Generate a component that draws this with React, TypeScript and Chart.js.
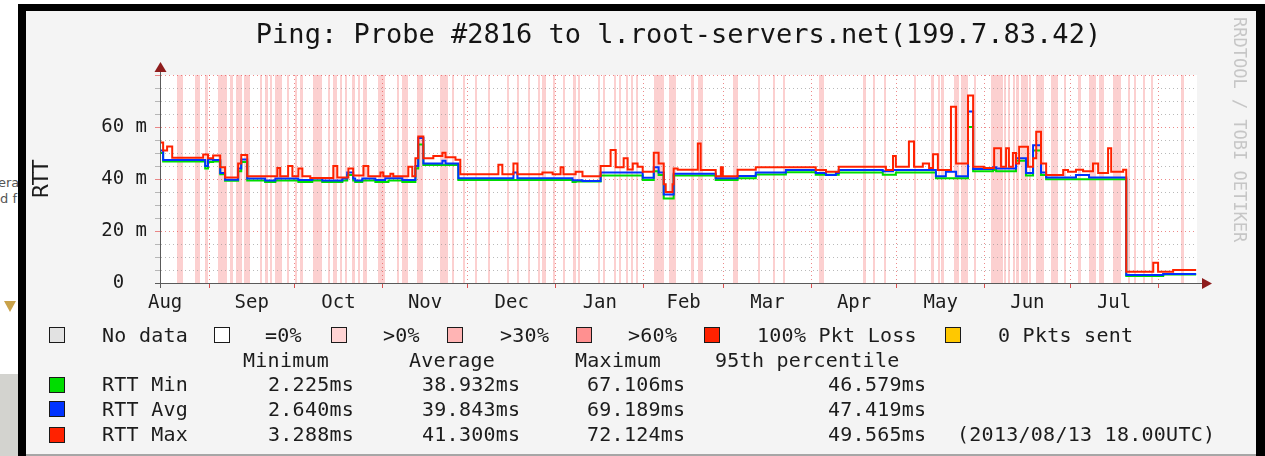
import React, { useEffect, useRef } from 'react';
import { Chart, registerables } from 'chart.js';

Chart.register(...registerables);

// ---------------- data ----------------
const chartTitle = 'Ping: Probe #2816 to l.root-servers.net(199.7.83.42)';
const yAxisTitle = 'RTT';
const watermark = 'RRDTOOL / TOBI OETIKER';

// x values are days counted from 2012-08-01
const xMinDay = 13.7;
const xMaxDay = 378.7;
const monthLabels = ['Aug', 'Sep', 'Oct', 'Nov', 'Dec', 'Jan', 'Feb', 'Mar', 'Apr', 'May', 'Jun', 'Jul'];
const monthMidDays = [15.5, 46, 76.5, 107, 137.5, 168.5, 198, 227.5, 258, 288.5, 319, 349.5];
const monthStartDays = [31, 61, 92, 122, 153, 184, 212, 243, 273, 304, 334, 365];

const yMin = 0;
const yMax = 80;
const yStep = 5;
const yMajorStep = 20;
const yTickValues = [0, 20, 40, 60];
const yTickTexts = ['0  ', '20 m', '40 m', '60 m'];

// step series: [day, ms]
const rttMaxSteps: [number, number][] = [
  [13.7, 54], [14.8, 51], [16.2, 52.5], [18.0, 48.2], [28.9, 49.4], [30.6, 48], [32.4, 49], [34.9, 44.5],
  [36.6, 40.6], [41.2, 46], [42.3, 49.2], [44.4, 41.1], [55.0, 44.2], [56.0, 41.1], [58.8, 45], [60.3, 41.1],
  [62.4, 44], [63.8, 41.1], [66.6, 40.4], [74.7, 45], [76.1, 40.6], [80.0, 44], [81.7, 41.3], [85.3, 45],
  [87.0, 41.1], [91.3, 42.5], [92.3, 41.1], [94.8, 42], [95.8, 41.1], [101.1, 44.7], [102.5, 41.1], [103.6, 48],
  [104.6, 56.3], [106.4, 48], [109.9, 48.8], [113.1, 50.1], [114.2, 48.4], [117.7, 47.4], [119.4, 41.8],
  [132.8, 45.5], [134.2, 41.8], [138.1, 46], [139.5, 41.8], [148.3, 42.5], [151.9, 41.8], [154.7, 44.5],
  [155.7, 41.8], [160.0, 42.8], [162.4, 41.1], [168.8, 45], [172.3, 51.2], [174.1, 44.5], [176.9, 48],
  [178.3, 43.7], [180.1, 46], [181.8, 44.7], [183.6, 42.8], [187.5, 50.1], [189.2, 46], [191.0, 38],
  [191.7, 35], [194.1, 38], [194.5, 44], [195.9, 43.6], [203.0, 53.7], [204.0, 43.5], [209.3, 41.1],
  [211.1, 44.5], [211.8, 41.1], [217.0, 43.6], [223.4, 44.5], [244.5, 43.5], [248.1, 42.8], [252.6, 44.7],
  [269.2, 43.5], [271.7, 48.8], [272.7, 44.7], [277.3, 54.4], [279.1, 44.7], [282.2, 46], [284.4, 44.2],
  [285.8, 49.5], [287.5, 43.5], [292.1, 67.8], [293.9, 46], [298.1, 72.1], [299.9, 44.7], [303.7, 44.2],
  [307.3, 51.8], [309.7, 44.7], [311.5, 51.8], [312.5, 44.7], [313.9, 50], [315.0, 46], [316.1, 52.4],
  [319.2, 44.7], [321.0, 48], [322.1, 58.2], [323.8, 46], [325.6, 41.5], [331.6, 43.5], [333.3, 42.8],
  [336.1, 43.6], [338.6, 43], [342.1, 46], [343.9, 42.3], [347.4, 51.8], [348.5, 42.8], [352.7, 43.6],
  [353.8, 4.3], [363.3, 7.8], [365.0, 4.3], [370.3, 5], [378.4, 5],
];

const rttAvgSteps: [number, number][] = [
  [13.7, 51], [14.8, 47.3], [29.6, 45], [30.6, 47.5], [32.4, 47.3], [34.9, 42.3], [36.6, 39.7], [41.2, 44],
  [42.3, 47.5], [44.4, 40.2], [50.7, 39.4], [54.3, 40.2], [62.4, 39.6], [67.3, 40.2], [70.8, 39.4],
  [77.9, 40.2], [79.6, 42.5], [81.7, 40.2], [82.4, 39.4], [84.9, 40.2], [89.5, 39.6], [93.0, 40.3],
  [99.0, 39.6], [103.6, 45], [104.6, 55.8], [106.4, 46], [113.1, 47], [114.2, 46], [118.7, 40.3],
  [138.1, 42.5], [139.5, 40.3], [158.9, 39.5], [162.4, 39.2], [168.8, 42.5], [183.6, 40.5], [187.5, 44.5],
  [189.2, 42.5], [191.0, 34], [194.5, 42], [209.3, 40.3], [217.0, 41.2], [223.4, 42.5], [234.0, 43.5],
  [244.5, 42.3], [248.1, 41.5], [251.6, 42.3], [252.6, 43.5], [268.1, 43], [271.7, 43.5], [286.8, 41.1],
  [290.3, 42.8], [293.9, 41.1], [298.1, 66], [299.9, 43.8], [306.9, 44.5], [308.0, 44], [315.0, 48],
  [318.5, 42.3], [321.0, 53], [323.8, 42.5], [325.6, 40.6], [336.1, 41.5], [340.7, 40.6], [353.8, 3.1],
  [366.8, 3.5], [378.4, 3.5],
];

const rttMinSteps: [number, number][] = [
  [13.7, 50], [14.8, 46.7], [29.6, 44], [30.6, 46.5], [32.4, 46.7], [34.9, 41.8], [36.6, 39.3], [41.2, 43],
  [42.3, 46.5], [44.4, 39.4], [50.7, 38.8], [54.3, 39.4], [62.4, 38.8], [67.3, 39.4], [70.8, 38.8],
  [77.9, 39.4], [79.6, 41.5], [81.7, 39.4], [82.4, 38.8], [84.9, 39.4], [89.5, 38.8], [94.1, 39.4],
  [99.0, 38.8], [103.6, 44], [104.6, 53.3], [106.4, 45.4], [118.7, 39.6], [158.9, 38.8], [160.0, 39],
  [168.8, 41.3], [183.6, 39.6], [187.5, 43], [189.2, 41.5], [191.0, 32.5], [194.5, 41.3], [209.3, 39.6],
  [217.0, 40.3], [223.4, 41.7], [234.0, 42.6], [244.5, 41.6], [252.6, 42.5], [268.1, 41.6], [272.7, 42.5],
  [286.8, 40.3], [298.1, 60], [299.9, 43], [306.9, 43.5], [308.0, 43], [315.0, 47], [318.5, 41.3],
  [321.0, 51], [323.8, 41.5], [325.6, 39.9], [353.8, 2.7], [366.8, 3.3], [378.4, 3.3],
];

// periods with packet loss > 0%: [startDay, endDay]
const lossPeriods: [number, number][] = [
  [19.7, 21.8], [26.1, 27.8], [29.6, 30.6], [34.2, 37.3], [38.4, 39.5], [40.5, 42.6], [43.3, 45.5],
  [49.0, 49.7], [50.7, 51.8], [52.5, 53.2], [54.3, 56.7], [58.5, 58.8], [61.3, 62.0], [63.1, 64.1],
  [67.6, 70.8], [72.9, 73.6], [74.7, 76.1], [77.2, 77.9], [78.9, 79.6], [81.4, 82.4], [83.5, 84.2],
  [85.3, 86.7], [90.6, 93.0], [97.2, 97.6], [99.0, 101.1], [104.3, 106.4], [112.4, 115.2], [116.6, 117.0],
  [120.2, 121.2], [124.7, 125.4], [129.0, 129.3], [136.0, 136.4], [139.5, 139.9], [143.1, 143.4],
  [146.6, 146.9], [148.3, 149.4], [151.9, 152.2], [155.7, 156.4], [158.9, 160.0], [160.7, 161.0],
  [167.7, 168.1], [169.5, 169.8], [173.4, 174.1], [175.1, 175.8], [177.6, 178.3], [179.4, 180.1],
  [181.1, 181.8], [187.5, 191.0], [192.7, 195.2], [200.5, 201.5], [203.0, 204.7], [215.3, 217.0],
  [224.1, 224.4], [229.4, 229.7], [232.9, 233.3], [245.6, 247.4], [261.1, 262.2], [264.6, 265.0],
  [268.5, 269.2], [279.1, 279.8], [285.1, 286.1], [287.5, 287.9], [288.6, 289.6], [293.2, 294.9],
  [295.6, 298.1], [300.2, 300.9], [306.2, 310.4], [310.8, 311.5], [312.2, 312.5], [313.9, 314.3],
  [315.0, 316.1], [316.8, 319.2], [319.6, 320.3], [322.1, 324.9], [327.3, 329.8], [331.9, 332.6],
  [336.8, 337.9], [340.7, 343.2], [344.2, 346.0], [349.2, 352.0], [354.5, 354.8], [356.6, 357.3],
  [359.8, 360.1], [362.6, 363.3], [373.1, 374.2],
];

const lossLegendLabels = ['No data', '=0%', '>0%', '>30%', '>60%', '100% Pkt Loss', '0 Pkts sent'];
const statHeaders = ['Minimum', 'Average', 'Maximum', '95th percentile'];
const seriesNames = ['RTT Min', 'RTT Avg', 'RTT Max'];
const rttMinStats = [2.225, 38.932, 67.106, 46.579];
const rttAvgStats = [2.64, 39.843, 69.189, 47.419];
const rttMaxStats = [3.288, 41.3, 72.124, 49.565];
const timestampLabel = '(2013/08/13 18.00UTC)';

// ---------------- styles ----------------
const MONO = "'DejaVu Sans Mono', monospace";
const SANS = "'DejaVu Sans', sans-serif";
const BG = '#f4f4f4';
const TEXT = '#1c1c1c';
const PLOT_BG = '#ffffff';
const STRIPE = '#fcd0d0';
const GRID = 'rgba(140,140,140,0.6)';
const MGRID = 'rgba(225,60,60,0.6)';
const MTICK = 'rgba(210,40,40,0.8)';
const AXIS = '#5a5a5a';
const ARROW = '#8e1c1c';
const SERIES_COLORS = ['#00dd00', '#0033ff', '#ff2200'];
const LOSS_COLORS = ['#e2e2e2', '#ffffff', '#ffd4d4', '#ffb4b4', '#ff9090', '#ff2200', '#ffc800'];
const LOSS_BOX_X = [49, 214, 331, 447, 576, 704, 945];
const LOSS_TEXT_X = [102, 265, 383, 500, 628, 757, 998];
const HEADER_X = [243, 409, 575, 715];
const VALUE_X = [268, 422, 587, 828];
const ROW_CENTER = [334.5, 359.5, 384, 408.5, 434];

const toPoints = (steps: [number, number][]) => steps.map(([x, y]) => ({ x, y }));
const monthStartSet = new Set(monthStartDays);
const monthLabelByDay = new Map(monthMidDays.map((d, i) => [d, monthLabels[i]] as [number, string]));
const xTickValues = [...monthMidDays, ...monthStartDays]
  .filter((v) => v >= xMinDay && v <= xMaxDay)
  .sort((a, b) => a - b);

const rrdPlugin = {
  id: 'rrdDecor',
  beforeDraw(chart: any) {
    const { ctx, chartArea: a, scales } = chart;
    const xs = scales.x;
    ctx.save();
    ctx.fillStyle = PLOT_BG;
    ctx.fillRect(a.left, a.top, a.right - a.left, a.bottom - a.top);
    ctx.fillStyle = STRIPE;
    for (const [s, e] of lossPeriods) {
      const l = Math.round(xs.getPixelForValue(s));
      const r = Math.max(Math.round(xs.getPixelForValue(e)), l + 2);
      ctx.fillRect(l, a.top, r - l, a.bottom - a.top);
    }
    ctx.restore();
  },
  afterDraw(chart: any) {
    const { ctx, chartArea: a } = chart;
    const bx = Math.round(a.left) + 0.5;
    const by = Math.round(a.bottom) + 0.5;
    ctx.save();
    ctx.strokeStyle = AXIS;
    ctx.lineWidth = 1;
    ctx.beginPath();
    ctx.moveTo(a.left - 5, by);
    ctx.lineTo(a.right + 6, by);
    ctx.moveTo(bx, a.bottom + 5);
    ctx.lineTo(bx, a.top - 6);
    ctx.stroke();
    ctx.fillStyle = ARROW;
    ctx.beginPath();
    ctx.moveTo(a.right + 5, by - 5.5);
    ctx.lineTo(a.right + 15, by);
    ctx.lineTo(a.right + 5, by + 5.5);
    ctx.closePath();
    ctx.fill();
    ctx.beginPath();
    ctx.moveTo(bx - 6, a.top - 3);
    ctx.lineTo(bx, a.top - 13);
    ctx.lineTo(bx + 6, a.top - 3);
    ctx.closePath();
    ctx.fill();
    ctx.restore();
  },
};

const lineDataset = (label: string, steps: [number, number][], color: string, order: number) => ({
  label,
  data: toPoints(steps),
  borderColor: color,
  backgroundColor: color,
  borderWidth: 2,
  pointRadius: 0,
  stepped: true,
  fill: false,
  order,
});

const legendText = (text: string, left: number, center: number, key: string) => (
  <div
    key={key}
    style={{
      position: 'absolute',
      left,
      top: center - 9.6,
      font: `20px ${MONO}`,
      lineHeight: '20px',
      letterSpacing: '0.26px',
      color: TEXT,
      whiteSpace: 'pre',
    }}
  >
    {text}
  </div>
);

const legendBox = (color: string, left: number, top: number, key: string) => (
  <div
    key={key}
    style={{
      position: 'absolute',
      left,
      top,
      width: 16,
      height: 16,
      boxSizing: 'border-box',
      border: '1.5px solid #1a1a1a',
      background: color,
    }}
  />
);

export default function App() {
  const canvasRef = useRef<HTMLCanvasElement>(null);

  useEffect(() => {
    const canvas = canvasRef.current;
    if (!canvas) return;
    const chart = new Chart(canvas, {
      type: 'line',
      data: {
        datasets: [
          lineDataset(seriesNames[2], rttMaxSteps, SERIES_COLORS[2], 1),
          lineDataset(seriesNames[1], rttAvgSteps, SERIES_COLORS[1], 2),
          lineDataset(seriesNames[0], rttMinSteps, SERIES_COLORS[0], 3),
        ],
      },
      options: {
        animation: false,
        responsive: false,
        events: [],
        layout: { padding: { left: 26, right: 68, top: 0, bottom: 0 } },
        plugins: {
          legend: { display: false },
          tooltip: { enabled: false },
          title: {
            display: true,
            text: chartTitle,
            fullSize: false,
            color: '#151515',
            font: { family: MONO, size: 27, weight: 'normal', lineHeight: 1.2 },
            padding: { top: 19.3, bottom: 23.3 },
          },
        },
        scales: {
          x: {
            type: 'linear',
            min: xMinDay,
            max: xMaxDay,
            bounds: 'data',
            afterFit: (s: any) => {
              s.height = 173;
            },
            afterBuildTicks: (s: any) => {
              s.ticks = xTickValues.map((value) => ({ value }));
            },
            ticks: {
              autoSkip: false,
              maxRotation: 0,
              minRotation: 0,
              padding: 4,
              color: TEXT,
              font: { family: MONO, size: 19 },
              callback: (v: any) => monthLabelByDay.get(Number(v)) ?? '',
            },
            grid: {
              color: (c: any) => (c.tick && monthStartSet.has(c.tick.value) ? MGRID : 'rgba(0,0,0,0)'),
              tickColor: (c: any) => (c.tick && monthStartSet.has(c.tick.value) ? MTICK : 'rgba(0,0,0,0)'),
              tickLength: 5,
              lineWidth: 1,
            },
            border: { display: true, color: AXIS, width: 1, dash: [1, 3] },
          },
          y: {
            type: 'linear',
            min: yMin,
            max: yMax,
            bounds: 'data',
            afterFit: (s: any) => {
              s.width = 134;
            },
            ticks: {
              stepSize: yStep,
              autoSkip: false,
              padding: 8,
              color: TEXT,
              font: { family: MONO, size: 19 },
              callback: (v: any) => {
                const i = yTickValues.indexOf(Number(v));
                return i >= 0 ? yTickTexts[i] : '';
              },
            },
            grid: {
              color: (c: any) => (c.tick && c.tick.value % yMajorStep === 0 ? MGRID : GRID),
              tickColor: (c: any) => (c.tick && c.tick.value % yMajorStep === 0 ? MGRID : GRID),
              tickLength: 5,
              lineWidth: 1,
            },
            border: { display: true, color: AXIS, width: 1, dash: [1, 3] },
            title: {
              display: true,
              text: yAxisTitle,
              color: TEXT,
              font: { family: SANS, size: 21, lineHeight: 1.2 },
              padding: { top: 4, bottom: 0 },
            },
          },
        },
      },
      plugins: [rrdPlugin],
    } as any);
    return () => chart.destroy();
  }, []);

  const statRows = [rttMinStats, rttAvgStats, rttMaxStats];

  return (
    <div
      style={{
        position: 'fixed',
        left: 0,
        top: 0,
        width: 1265,
        height: 456,
        overflow: 'hidden',
        background: '#ffffff',
      }}
    >
      {/* fragments of the page behind the screenshot */}
      <div style={{ position: 'absolute', left: -2, top: 175, font: `13px ${SANS}`, color: '#555', lineHeight: '15px' }}>era</div>
      <div style={{ position: 'absolute', left: 0, top: 191, font: `13px ${SANS}`, color: '#555', lineHeight: '15px' }}>d f</div>
      <div
        style={{
          position: 'absolute',
          left: 4,
          top: 301,
          width: 0,
          height: 0,
          borderLeft: '6px solid transparent',
          borderRight: '6px solid transparent',
          borderTop: '11px solid #c9a24a',
        }}
      />
      <div style={{ position: 'absolute', left: 0, top: 374, width: 18, height: 82, background: '#d3d3cf' }} />

      {/* frame */}
      <div style={{ position: 'absolute', left: 18, top: 4, width: 1247, height: 452, background: '#000' }} />
      <div style={{ position: 'absolute', left: 26, top: 11, width: 1230, height: 443, background: BG }} />
      <div style={{ position: 'absolute', left: 26, top: 454, width: 1230, height: 2, background: '#a6a6a6' }} />

      <canvas
        ref={canvasRef}
        width={1265}
        height={456}
        style={{ position: 'absolute', left: 0, top: 0, width: 1265, height: 456 }}
      />

      {/* watermark */}
      <div
        style={{
          position: 'absolute',
          left: 1231,
          top: 17,
          writingMode: 'vertical-rl',
          font: `17px ${MONO}`,
          lineHeight: '18px',
          color: '#c6c6c6',
          whiteSpace: 'pre',
        }}
      >
        {watermark}
      </div>

      {/* loss legend */}
      {lossLegendLabels.map((label, i) => legendBox(LOSS_COLORS[i], LOSS_BOX_X[i], 327, `lb${i}`))}
      {lossLegendLabels.map((label, i) => legendText(label, LOSS_TEXT_X[i], ROW_CENTER[0], `lt${i}`))}

      {/* stats headers */}
      {statHeaders.map((h, i) => legendText(h, HEADER_X[i], ROW_CENTER[1], `sh${i}`))}

      {/* stats rows */}
      {statRows.map((row, r) => (
        <React.Fragment key={`row${r}`}>
          {legendBox(SERIES_COLORS[r], 49, ROW_CENTER[r + 2] - 7.5, `sb${r}`)}
          {legendText(seriesNames[r], 102, ROW_CENTER[r + 2], `sn${r}`)}
          {row.map((v, c) => legendText(`${v.toFixed(3)}ms`, VALUE_X[c], ROW_CENTER[r + 2], `sv${r}${c}`))}
        </React.Fragment>
      ))}
      {legendText(timestampLabel, 957, ROW_CENTER[4], 'ts')}
    </div>
  );
}
